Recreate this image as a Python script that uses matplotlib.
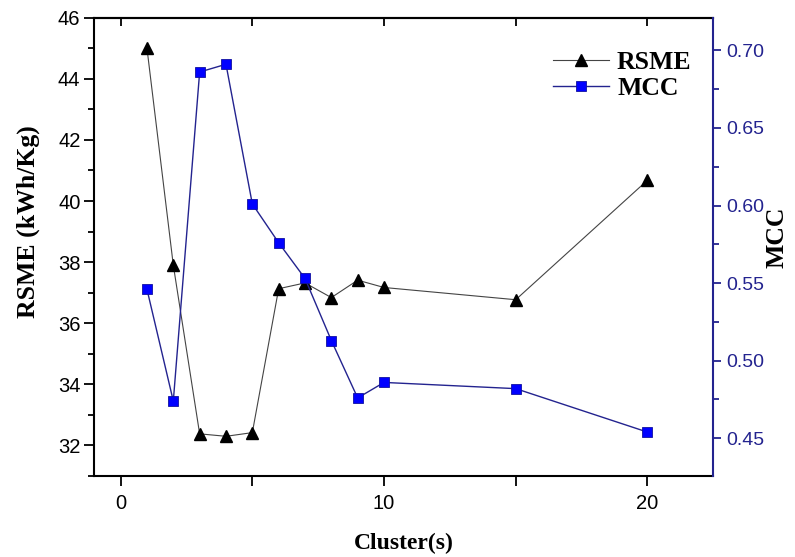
import matplotlib
matplotlib.use("Agg")
import matplotlib.pyplot as plt
from matplotlib.ticker import MultipleLocator, FixedLocator

clusters = [1, 2, 3, 4, 5, 6, 7, 8, 9, 10, 15, 20]
rsme = [45.0, 37.9, 32.38, 32.3, 32.42, 37.13, 37.32, 36.84, 37.41, 37.17, 36.77, 40.68]
mcc = [0.546, 0.474, 0.686, 0.691, 0.601, 0.576, 0.553, 0.513, 0.476, 0.486, 0.482, 0.454]

left_ticks = [32, 34, 36, 38, 40, 42, 44, 46]
right_ticks = [0.45, 0.50, 0.55, 0.60, 0.65, 0.70]
x_ticks = [0, 10, 20]

navy = "#23238f"
tick_font = "Liberation Sans"
label_font = "Liberation Serif"

fig = plt.figure(figsize=(7.95, 5.57), dpi=100)
ax = fig.add_axes([0.1186, 0.1454, 0.8972 - 0.1186, 0.9682 - 0.1454])
ax2 = ax.twinx()

l1, = ax.plot(clusters, rsme, color="#444444", lw=0.8, marker="^", ms=9,
              mfc="black", mec="black", label="RSME", zorder=3)
l2, = ax2.plot(clusters, mcc, color=navy, lw=1.0, marker="s", ms=7,
               mfc="#0000ff", mec="#1010a0", mew=0.6, label="MCC", zorder=3)

ax.set_xlim(-1, 22.5)
ax.set_ylim(31, 46)
ax2.set_ylim(0.4257, 0.721)

ax.xaxis.set_major_locator(FixedLocator(x_ticks))
ax.xaxis.set_minor_locator(MultipleLocator(5))
ax.yaxis.set_major_locator(FixedLocator(left_ticks))
ax.yaxis.set_minor_locator(MultipleLocator(1))
ax2.yaxis.set_major_locator(FixedLocator(right_ticks))
ax2.yaxis.set_minor_locator(MultipleLocator(0.025))

for sp in ["left", "bottom", "top"]:
    ax.spines[sp].set_linewidth(1.5)
    ax.spines[sp].set_color("black")
ax.spines["right"].set_visible(False)
for sp in ["left", "bottom", "top"]:
    ax2.spines[sp].set_visible(False)
ax2.spines["right"].set_linewidth(1.5)
ax2.spines["right"].set_color(navy)

ax.tick_params(axis="y", which="major", direction="out", length=7, width=1.3, labelsize=14.5, pad=3)
ax.tick_params(axis="y", which="minor", direction="out", length=4, width=1.3)
ax.tick_params(axis="x", which="both", direction="out", length=7, width=1.3, labelsize=14.5, pad=6)
ax2.tick_params(axis="y", which="major", direction="out", length=6, width=1.3, colors=navy,
                labelsize=14, pad=3)
ax2.tick_params(axis="y", which="minor", direction="out", length=4.5, width=1.3, colors=navy)

top = ax.secondary_xaxis("top")
top.xaxis.set_major_locator(MultipleLocator(5))
top.tick_params(axis="x", direction="in", length=6, width=1.3, labeltop=False)
top.spines["top"].set_linewidth(1.5)

for lab in ax.get_xticklabels() + ax.get_yticklabels():
    lab.set_fontfamily(tick_font)
ax2.set_yticklabels(["%.2f" % v for v in right_ticks], fontfamily=tick_font, color=navy, fontsize=14)

ax.set_xlabel("Cluster(s)", fontfamily=label_font, fontweight="bold", fontsize=17, labelpad=14)
ax.set_ylabel("RSME (kWh/Kg)", fontfamily=label_font, fontweight="bold", fontsize=18.5)
ax.yaxis.set_label_coords(-0.087, 0.554)
ax2.set_ylabel("MCC", fontfamily=label_font, fontweight="bold", fontsize=18.5)
ax2.yaxis.set_label_coords(1.085, 0.52)

leg = ax.legend(handles=[l1, l2], loc="upper right", bbox_to_anchor=(0.99, 0.962), frameon=False,
                prop={"family": label_font, "weight": "bold", "size": 18.5},
                handlelength=2.2, handletextpad=0.3, labelspacing=0.15, borderaxespad=0.2)

fig.savefig("out.png", dpi=100)
